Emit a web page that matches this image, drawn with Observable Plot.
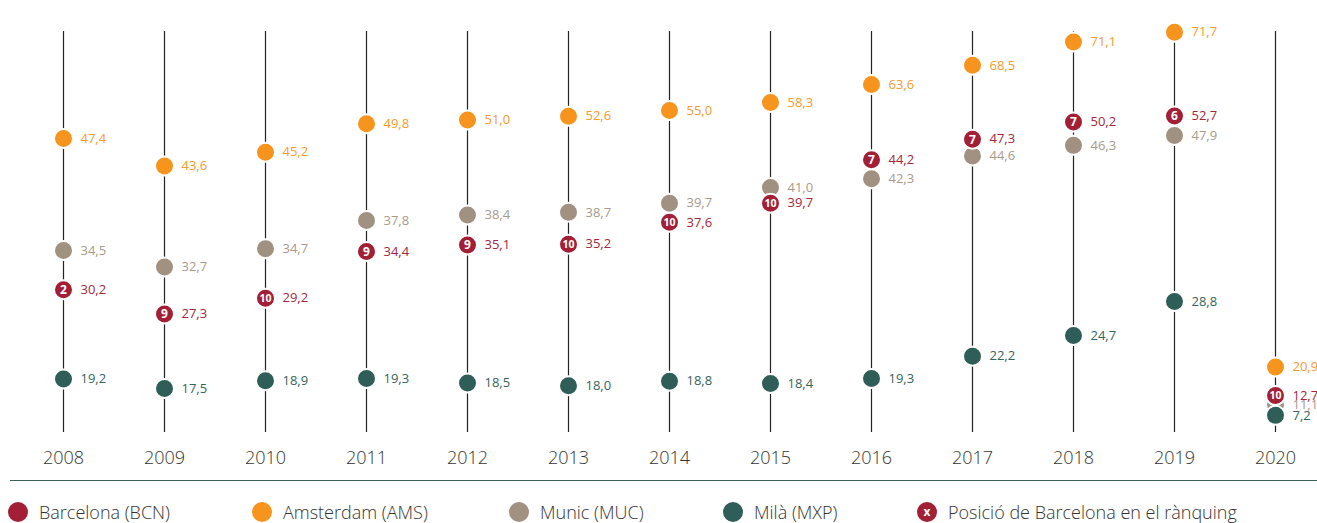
<!DOCTYPE html>
<html>
<head>
<meta charset="utf-8">
<script src="https://cdn.jsdelivr.net/npm/d3@7"></script>
<script src="https://cdn.jsdelivr.net/npm/@observablehq/plot@0.6"></script>
<style>
  html, body { margin: 0; padding: 0; background: #fff; }
  body { width: 1317px; height: 523px; overflow: hidden; font-family: "Open Sans", sans-serif; }
  #chart svg { display: block; }
  #legend { position: relative; margin-left: 10px; height: 41px; border-top: 1.5px solid #3d605b; }
  .item { position: absolute; top: 21px; height: 20px; line-height: 20px; display: flex; align-items: center; font-size: 18px; font-weight: 300; color: #333; white-space: nowrap; }
  .sw { width: 20px; height: 20px; border-radius: 50%; margin-right: 11px; display: inline-flex; align-items: center; justify-content: center; color: #fff; font-weight: bold; font-size: 12px; }
</style>
</head>
<body>
<div id="chart"></div>
<div id="legend"></div>
<script>
// ---- data ----
const years = [2008, 2009, 2010, 2011, 2012, 2013, 2014, 2015, 2016, 2017, 2018, 2019, 2020];
const bcn = [30.2, 27.3, 29.2, 34.4, 35.1, 35.2, 37.6, 39.7, 44.2, 47.3, 50.2, 52.7, 12.7];
const ams = [47.4, 43.6, 45.2, 49.8, 51.0, 52.6, 55.0, 58.3, 63.6, 68.5, 71.1, 71.7, 20.9];
const muc = [34.5, 32.7, 34.7, 37.8, 38.4, 38.7, 39.7, 41.0, 42.3, 44.6, 46.3, 47.9, 11.1];
const mxp = [19.2, 17.5, 18.9, 19.3, 18.5, 18.0, 18.8, 18.4, 19.3, 22.2, 24.7, 28.8, 7.2];
const bcnRank = [2, 9, 10, 9, 9, 10, 10, 10, 7, 7, 7, 6, 10];
const seriesNames = ["Barcelona (BCN)", "Amsterdam (AMS)", "Munic (MUC)", "Milà (MXP)"];
const rankLegend = "Posició de Barcelona en el rànquing";

// ---- styles ----
const colors = { BCN: "#a31f36", AMS: "#f7941d", MUC: "#a09181", MXP: "#2f5e59" };
const textColors = { BCN: "#a3263c", AMS: "#f59a2c", MUC: "#a89a8b", MXP: "#356460" };

const fmt = v => v.toFixed(1).replace(".", ",");
const seriesValues = { BCN: bcn, AMS: ams, MUC: muc, MXP: mxp };
const rows = key => years.map((year, i) => ({ year, value: seriesValues[key][i], rank: bcnRank[i] }));

const order = ["AMS", "MUC", "MXP", "BCN"];
const marks = [Plot.ruleX(years, { stroke: "#222", strokeWidth: 1.2 })];
for (const k of order) {
  marks.push(Plot.dot(rows(k), { x: "year", y: "value", r: 9.5, fill: colors[k], stroke: "#fff", strokeWidth: 2 }));
}
for (const k of order) {
  marks.push(Plot.text(rows(k), { x: "year", y: "value", text: d => fmt(d.value), dx: 17, textAnchor: "start", fill: textColors[k], fontSize: 13 }));
}
marks.push(Plot.text(rows("BCN"), {
  x: "year", y: "value", text: d => String(d.rank), fill: "#fff", fontWeight: "bold",
  fontSize: d => d.rank >= 10 ? 10.5 : 12, dy: 0.5
}));
marks.push(Plot.axisX({ tickSize: 0, tickPadding: 19, fontSize: 18, fontWeight: 300, tickFormat: d => String(d), color: "#333" }));

const chart = Plot.plot({
  width: 1317,
  height: 480,
  marginTop: 31,
  marginBottom: 48,
  marginLeft: 61,
  marginRight: 40,
  style: { fontFamily: "'Open Sans', sans-serif", color: "#333", background: "#fff", overflow: "visible" },
  x: { type: "point", domain: years, padding: 0, label: null },
  y: {
    type: "linear",
    domain: [5, 11.1, 12.7, 17.5, 20, 30, 40, 41, 42.5, 44.5, 50, 60, 70, 72],
    range: [421, 404, 395, 388, 374, 291, 200, 187, 177, 156, 122, 98, 59, 27],
    axis: null
  },
  marks
});
document.getElementById("chart").appendChild(chart);

// ---- legend ----
const legend = document.getElementById("legend");
const legendItems = [
  { label: seriesNames[0], color: colors.BCN, left: -2 },
  { label: seriesNames[1], color: colors.AMS, left: 242 },
  { label: seriesNames[2], color: colors.MUC, left: 499 },
  { label: seriesNames[3], color: colors.MXP, left: 713 },
  { label: rankLegend, color: colors.BCN, left: 907, mark: "x" }
];
for (const it of legendItems) {
  const div = document.createElement("div");
  div.className = "item";
  div.style.left = it.left + "px";
  const sw = document.createElement("span");
  sw.className = "sw";
  sw.style.background = it.color;
  if (it.mark) sw.textContent = it.mark;
  const t = document.createElement("span");
  t.textContent = it.label;
  div.appendChild(sw);
  div.appendChild(t);
  legend.appendChild(div);
}
</script>
</body>
</html>
